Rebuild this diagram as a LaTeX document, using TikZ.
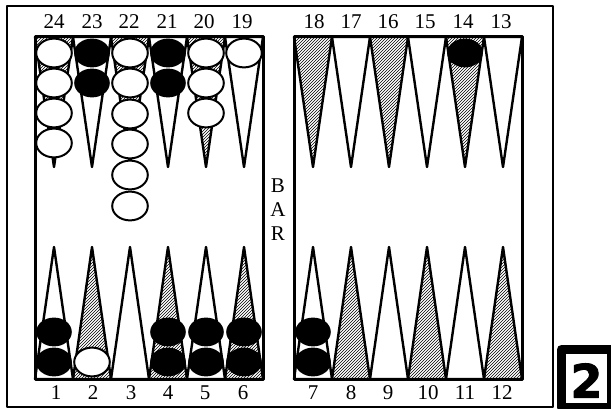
\documentclass[tikz,border=0pt]{standalone}
\usepackage{fontspec}
\setmainfont{Liberation Serif}
\newfontfamily\diefont[FakeBold=2]{DejaVu Sans Bold}
\usetikzlibrary{patterns}
\tikzset{
  lbl/.style={font=\fontsize{21}{21}\selectfont, inner sep=0pt},
  pt/.style={line width=2.4pt, fill=white},
  hatch/.style={line width=2.4pt, pattern=north east lines, pattern color=black},
  wman/.style={line width=2pt, fill=white},
  bman/.style={fill=black}
}
\begin{document}
\begin{tikzpicture}[x=1pt,y=-1pt,line join=round]
\useasboundingbox (0,0) rectangle (611,409);
\clip (0,0) rectangle (611,409);
\def\dn{+(-19,0) -- +(0,130) -- +(19,0) -- cycle}
\def\up{+(-19,0) -- +(0,-132) -- +(19,0) -- cycle}
\def\man{+(0,0) ellipse [x radius=17.8, y radius=14.4]}
\draw[line width=2pt] (7,6) rectangle (553,407);
% top row
\draw[hatch] ( 54,37) \dn;
\draw[pt]    ( 92,37) \dn;
\draw[hatch] (130,37) \dn;
\draw[pt]    (168,37) \dn;
\draw[hatch] (206,37) \dn;
\draw[pt]    (244,37) \dn;
\draw[hatch] (313,37) \dn;
\draw[pt]    (351,37) \dn;
\draw[hatch] (389,37) \dn;
\draw[pt]    (427,37) \dn;
\draw[hatch] (465,37) \dn;
\draw[pt]    (503,37) \dn;
% bottom row
\draw[pt]    ( 54,379) \up;
\draw[hatch] ( 92,379) \up;
\draw[pt]    (130,379) \up;
\draw[hatch] (168,379) \up;
\draw[pt]    (206,379) \up;
\draw[hatch] (244,379) \up;
\draw[pt]    (313,379) \up;
\draw[hatch] (351,379) \up;
\draw[pt]    (389,379) \up;
\draw[hatch] (427,379) \up;
\draw[pt]    (465,379) \up;
\draw[hatch] (503,379) \up;
\draw[line width=3pt] (35,37) rectangle (263,379);
\draw[line width=3pt] (294,37) rectangle (522,379);
% white men
\draw[wman] ( 54, 53) \man;
\draw[wman] ( 54, 83) \man;
\draw[wman] ( 54,113) \man;
\draw[wman] ( 54,143) \man;
\draw[wman] (130, 53) \man;
\draw[wman] (130, 83) \man;
\draw[wman] (130,114) \man;
\draw[wman] (130,144) \man;
\draw[wman] (130,175) \man;
\draw[wman] (130,206) \man;
\draw[wman] (206, 53) \man;
\draw[wman] (206, 83) \man;
\draw[wman] (206,113) \man;
\draw[wman] (244, 53) \man;
\draw[wman] ( 92,362) \man;
% black men
\fill[bman] ( 92, 53) \man;
\fill[bman] ( 92, 83) \man;
\fill[bman] (168, 53) \man;
\fill[bman] (168, 83) \man;
\fill[bman] (465, 53) \man;
\fill[bman] ( 54,332) \man;
\fill[bman] ( 54,362) \man;
\fill[bman] (168,332) \man;
\fill[bman] (168,362) \man;
\fill[bman] (206,332) \man;
\fill[bman] (206,362) \man;
\fill[bman] (244,332) \man;
\fill[bman] (244,362) \man;
\fill[bman] (313,332) \man;
\fill[bman] (313,362) \man;
% numbers
\node[lbl] (n24) at ( 54,22) {24};
\node[lbl] (n23) at ( 92,22) {23};
\node[lbl] (n22) at (129,22) {22};
\node[lbl] (n21) at (167,22) {21};
\node[lbl] (n20) at (204,22) {20};
\node[lbl] (n19) at (242,22) {19};
\node[lbl] (n18) at (314,22) {18};
\node[lbl] (n17) at (351,22) {17};
\node[lbl] (n16) at (388,22) {16};
\node[lbl] (n15) at (425,22) {15};
\node[lbl] (n14) at (463,22) {14};
\node[lbl] (n13) at (501,22) {13};
\node[lbl] (n1)  at ( 56,393) {1};
\node[lbl] (n2)  at ( 93,393) {2};
\node[lbl] (n3)  at (131,393) {3};
\node[lbl] (n4)  at (168,393) {4};
\node[lbl] (n5)  at (205,393) {5};
\node[lbl] (n6)  at (243,393) {6};
\node[lbl] (n7)  at (313,393) {7};
\node[lbl] (n8)  at (351,393) {8};
\node[lbl] (n9)  at (388,393) {9};
\node[lbl] (n10) at (428,393) {10};
\node[lbl] (n11) at (465,393) {11};
\node[lbl] (n12) at (502,393) {12};
\node[lbl] (bb) at (278,186) {B};
\node[lbl] (ba) at (278,210) {A};
\node[lbl] (br) at (278,234) {R};
% cube
\draw[line width=9pt] (561.5,349.5) rectangle (611.5,407.5);
\node[inner sep=0pt, font=\diefont\fontsize{46}{46}\selectfont] (cube) at (586.5,380.5) {2};
\end{tikzpicture}
\end{document}
